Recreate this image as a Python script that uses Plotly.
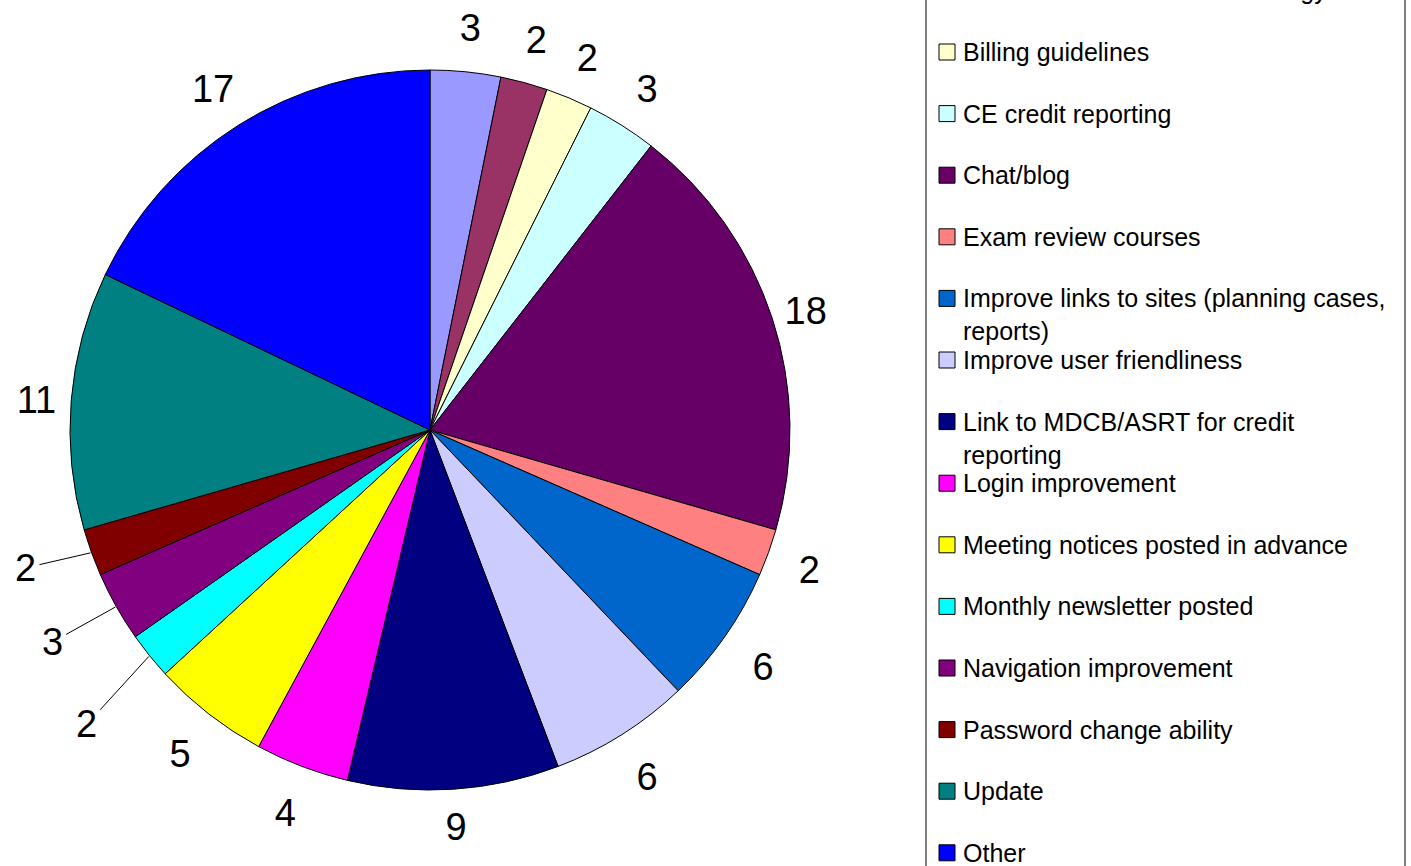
import math
import plotly.graph_objects as go

W, H = 1411, 866

categories = [
    "Access to information",
    "Awareness of current technology",
    "Billing guidelines",
    "CE credit reporting",
    "Chat/blog",
    "Exam review courses",
    "Improve links to sites (planning cases,<br>reports)",
    "Improve user friendliness",
    "Link to MDCB/ASRT for credit<br>reporting",
    "Login improvement",
    "Meeting notices posted in advance",
    "Monthly newsletter posted",
    "Navigation improvement",
    "Password change ability",
    "Update",
    "Other",
]
values = [3, 2, 2, 3, 18, 2, 6, 6, 9, 4, 5, 2, 3, 2, 11, 17]
colors = [
    "#9999FF", "#993366", "#FFFFCC", "#CCFFFF", "#660066", "#FF8080",
    "#0066CC", "#CCCCFF", "#000080", "#FF00FF", "#FFFF00", "#00FFFF",
    "#800080", "#800000", "#008080", "#0000FF",
]
# slices whose value label sits further out on a leader line: index -> (dx, dy) px offset
leader = {11: (-62, 68), 12: (-63, 35), 13: (-65, 15)}
# slices whose label uses the wider label ring (keeps it at the slice's mid angle)
wide_ring = {4, 5, 8, 14}

FONT = "Liberation Sans, Arial, sans-serif"
names = [c.replace("<br>", " ") for c in categories]

# pie geometry (pixels)
cx, cy, r = 430, 430, 360
R_lab = 430          # outer radius of the invisible label rings (centre y = 433)

fig = go.Figure()
fig.add_trace(go.Pie(
    labels=names, values=values,
    marker=dict(colors=colors, line=dict(color="black", width=1)),
    sort=False, direction="clockwise", rotation=0,
    textinfo="none", showlegend=False,
    hoverinfo="label+value+percent",
    domain=dict(x=[(cx - r) / W, (cx + r) / W], y=[1 - (cy + r) / H, 1 - (cy - r) / H]),
))


def label_ring(texts, r_inner):
    return go.Pie(
        labels=names, values=values, hole=r_inner / R_lab,
        marker=dict(colors=["rgba(0,0,0,0)"] * len(values), line=dict(width=0)),
        sort=False, direction="clockwise", rotation=0,
        text=texts, textinfo="text", textposition="inside",
        insidetextorientation="horizontal",
        textfont=dict(family=FONT, size=38, color="black"),
        showlegend=False, hoverinfo="skip",
        domain=dict(x=[(cx - R_lab) / W, (cx + R_lab) / W], y=[0, 1]),
    )


text_a = [str(v) if i in wide_ring else "" for i, v in enumerate(values)]
text_b = ["" if (i in leader or i in wide_ring) else str(v) for i, v in enumerate(values)]
fig.add_trace(label_ring(text_a, 360))
fig.add_trace(label_ring(text_b, 384))

annotations = []
total = sum(values)
cum = 0
for i, v in enumerate(values):
    mid = (cum + v / 2) / total * 2 * math.pi
    cum += v
    if i in leader:
        px = cx + (r + 1) * math.sin(mid)
        py = cy - (r + 1) * math.cos(mid)
        dx, dy = leader[i]
        annotations.append(dict(xref="paper", yref="paper", x=px / W, y=1 - py / H,
                                ax=dx, ay=dy, showarrow=True, arrowhead=0, arrowwidth=1,
                                arrowcolor="black", standoff=0, startstandoff=2,
                                text=str(v), font=dict(family=FONT, size=38, color="black")))

shapes = []
shapes.append(dict(type="rect", xref="paper", yref="paper",
                   x0=926 / W, x1=1405 / W, y0=-0.2, y1=1.3,
                   line=dict(color="black", width=1), fillcolor="rgba(0,0,0,0)"))
step = 61.6
y_first = 52 - 2 * step
for i, (cat, col) in enumerate(zip(categories, colors)):
    yc = y_first + i * step
    shapes.append(dict(type="rect", xref="paper", yref="paper",
                       x0=939 / W, x1=955 / W,
                       y0=1 - (yc + 8) / H, y1=1 - (yc - 8) / H,
                       fillcolor=col, line=dict(color="black", width=1)))
    annotations.append(dict(xref="paper", yref="paper", x=961 / W, y=1 - (yc - 16) / H,
                            xanchor="left", yanchor="top", align="left", showarrow=False,
                            text=cat, font=dict(family=FONT, size=25, color="black")))

fig.update_layout(
    width=W, height=H,
    margin=dict(l=0, r=0, t=0, b=0, autoexpand=False),
    paper_bgcolor="white", plot_bgcolor="white",
    shapes=shapes, annotations=annotations,
    uniformtext=dict(minsize=38, mode="show"),
    font=dict(family=FONT),
)

fig.write_html("out.html", config={"displayModeBar": False},
               post_script="document.body.style.margin='0';")
